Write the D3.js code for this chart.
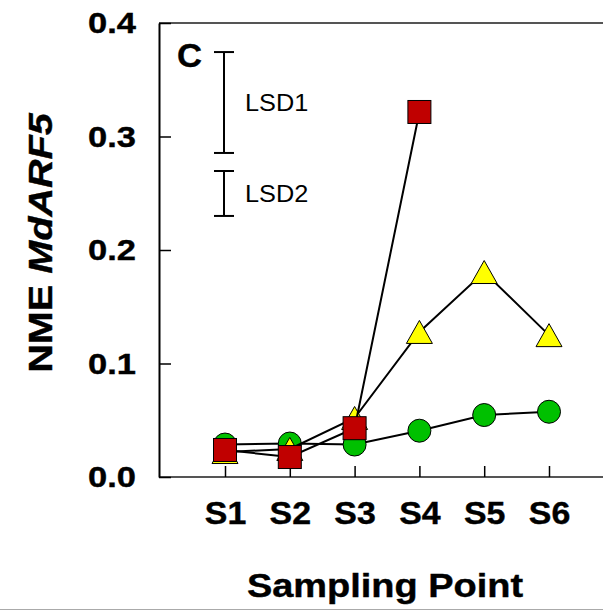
<!DOCTYPE html>
<html>
<head>
<meta charset="utf-8">
<script src="https://cdn.jsdelivr.net/npm/d3@7"></script>
<style>
  html, body { margin: 0; padding: 0; background: #fff; }
  svg { display: block; font-family: "Liberation Sans", Arial, sans-serif; }
</style>
</head>
<body>
<svg id="chart" width="603" height="611"></svg>
<script>
// ---- data ----
const categories = ["S1", "S2", "S3", "S4", "S5", "S6"];
const greenValues = [0.0286, 0.0295, 0.0286, 0.0408, 0.0546, 0.0575];
const yellowValues = [0.0220, 0.0247, 0.0520, 0.1278, 0.1806, 0.1250];
const redCategories = ["S1", "S2", "S3", "S4"];
const redValues = [0.0238, 0.0176, 0.0430, 0.3216];
const yTicks = [0.0, 0.1, 0.2, 0.3, 0.4];
const lsdNames = ["LSD1", "LSD2"];
const lsdLow = [0.2855, 0.2300];
const lsdHigh = [0.3744, 0.2696];

(function () {
// ---- layout ----
const svg = d3.select("#chart");
const plotLeft = 159, plotRight = 603, plotTop = 23, plotBottom = 477;
const FONT = "'Liberation Sans', Arial, sans-serif";

const x = d3.scalePoint().domain(categories).range([225, 549]);
const y = d3.scaleLinear().domain([0, 0.4]).range([plotBottom, plotTop]);

// frame lines
svg.append("line").attr("x1", plotLeft).attr("x2", plotRight).attr("y1", plotTop).attr("y2", plotTop)
  .attr("stroke", "#555").attr("stroke-width", 2);
svg.append("line").attr("x1", plotLeft).attr("x2", plotRight).attr("y1", plotBottom).attr("y2", plotBottom)
  .attr("stroke", "#555").attr("stroke-width", 2);
svg.append("line").attr("x1", 0).attr("x2", 603).attr("y1", 609.5).attr("y2", 609.5)
  .attr("stroke", "#aaa").attr("stroke-width", 1);

// y axis
const yAxis = d3.axisLeft(y).tickValues(yTicks).tickFormat(d3.format(".1f"))
  .tickSize(-12).tickSizeOuter(0).tickPadding(23);
const gy = svg.append("g").attr("transform", `translate(${plotLeft},0)`).call(yAxis);
gy.select(".domain").attr("stroke", "#000").attr("stroke-width", 2);
gy.selectAll(".tick line").attr("stroke", "#000").attr("stroke-width", 1.5);
gy.selectAll(".tick text").attr("fill", "#000")
  .attr("x", 0).attr("transform", "translate(-23,0) scale(1.15,1)")
  .attr("stroke", "#000").attr("stroke-width", 0.4)
  .style("font-size", "30px").style("font-weight", "bold").style("font-family", FONT);

// x axis
const xAxis = d3.axisBottom(x).tickSize(-11).tickSizeOuter(0).tickPadding(24);
const gx = svg.append("g").attr("transform", `translate(0,${plotBottom})`).call(xAxis);
gx.select(".domain").remove();
gx.selectAll(".tick line").attr("stroke", "#000").attr("stroke-width", 1.5);
gx.selectAll(".tick text").attr("fill", "#000")
  .attr("y", 0).attr("transform", "translate(0,24) scale(1.06,1)")
  .attr("stroke", "#000").attr("stroke-width", 0.4)
  .style("font-size", "32px").style("font-weight", "bold").style("font-family", FONT);

// axis titles
svg.append("text").attr("transform", "translate(385,597) scale(1.15,1)").attr("text-anchor", "middle")
  .attr("stroke", "#000").attr("stroke-width", 0.4)
  .style("font-size", "33px").style("font-weight", "bold")
  .text("Sampling Point");
const yl = svg.append("text").attr("transform", "translate(52,243) rotate(-90) scale(1.2,1)")
  .attr("stroke", "#000").attr("stroke-width", 0.4)
  .attr("text-anchor", "middle").style("font-size", "33px").style("font-weight", "bold");
yl.append("tspan").text("NME ");
yl.append("tspan").style("font-style", "italic").text("MdARF5");

// panel letter
svg.append("text").attr("transform", "translate(177,67) scale(1.05,1)").style("font-size", "33px")
  .attr("stroke", "#000").attr("stroke-width", 0.4)
  .style("font-weight", "bold").text("C");

// LSD bars
const lsdX = 224, capHalf = 10;
lsdNames.forEach((name, i) => {
  const g = svg.append("g");
  g.append("line").attr("x1", lsdX).attr("x2", lsdX).attr("y1", y(lsdLow[i])).attr("y2", y(lsdHigh[i]))
    .attr("stroke", "#000").attr("stroke-width", 2);
  [lsdLow[i], lsdHigh[i]].forEach(v => {
    g.append("line").attr("x1", lsdX - capHalf).attr("x2", lsdX + capHalf)
      .attr("y1", y(v)).attr("y2", y(v)).attr("stroke", "#000").attr("stroke-width", 2);
  });
  g.append("text")
    .attr("transform", `translate(245,${(y(lsdLow[i]) + y(lsdHigh[i])) / 2}) scale(1.1,1)`)
    .attr("dy", "0.35em").style("font-size", "23px").text(name);
});

// series
const line = d3.line().x(d => x(d.c)).y(d => y(d.v));
const green = categories.map((c, i) => ({ c, v: greenValues[i] }));
const yellow = categories.map((c, i) => ({ c, v: yellowValues[i] }));
const red = redCategories.map((c, i) => ({ c, v: redValues[i] }));

function drawLine(data) {
  svg.append("path").datum(data).attr("d", line).attr("fill", "none")
    .attr("stroke", "#000").attr("stroke-width", 2);
}

// green circles
drawLine(green);
svg.append("g").selectAll("circle").data(green).join("circle")
  .attr("cx", d => x(d.c)).attr("cy", d => y(d.v)).attr("r", 11.5)
  .attr("fill", "#00C000").attr("stroke", "#000").attr("stroke-width", 1);

// yellow triangles
drawLine(yellow);
svg.append("g").selectAll("path").data(yellow).join("path")
  .attr("d", "M0,-11.5L13,11.5L-13,11.5Z")
  .attr("transform", d => `translate(${x(d.c)},${y(d.v)})`)
  .attr("fill", "#FFFF00").attr("stroke", "#000").attr("stroke-width", 1);

// red squares
drawLine(red);
svg.append("g").selectAll("rect").data(red).join("rect")
  .attr("x", d => x(d.c) - 11.5).attr("y", d => y(d.v) - 11.5)
  .attr("width", 23).attr("height", 23)
  .attr("fill", "#C00000").attr("stroke", "#000").attr("stroke-width", 1);
})();
</script>
</body>
</html>
